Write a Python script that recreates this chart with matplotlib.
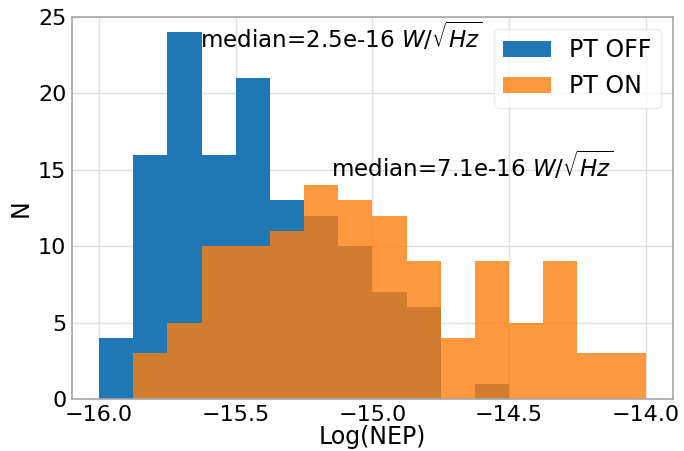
import numpy as np
import matplotlib
matplotlib.use("Agg")
import matplotlib.pyplot as plt

# Histogram counts of log10(NEP), bin width 0.125
off_edges = [-16.0, -15.875, -15.75, -15.625, -15.5, -15.375, -15.25,
             -15.125, -15.0, -14.875, -14.75, -14.625, -14.5]
off_counts = [4, 16, 24, 16, 21, 13, 12, 10, 7, 6, 0, 1]

on_edges = [-15.875, -15.75, -15.625, -15.5, -15.375, -15.25, -15.125,
            -15.0, -14.875, -14.75, -14.625, -14.5, -14.375, -14.25,
            -14.125, -14.0]
on_counts = [3, 5, 10, 10, 11, 14, 13, 12, 9, 4, 9, 5, 9, 3, 3]

median_off = "2.5e-16"
median_on = "7.1e-16"

plt.rcParams["font.family"] = "DejaVu Sans"
plt.rcParams["font.size"] = 16

fig = plt.figure(figsize=(6.84, 4.51), dpi=100)
ax = fig.add_axes([0.105, 0.1153, 0.879, 0.847])

off_edges = np.asarray(off_edges)
on_edges = np.asarray(on_edges)
off_centers = (off_edges[:-1] + off_edges[1:]) / 2
on_centers = (on_edges[:-1] + on_edges[1:]) / 2

ax.hist(off_centers, bins=off_edges, weights=off_counts,
        color="#1f77b4", label="PT OFF")
ax.hist(on_centers, bins=on_edges, weights=on_counts,
        color="#ff7f0e", alpha=0.8, label="PT ON")

ax.set_ylim(0, 25)
ax.set_yticks([0, 5, 10, 15, 20, 25])
ax.set_xticks([-16.0, -15.5, -15.0, -14.5, -14.0])

ax.text(-15.632, 23, "median=" + median_off + r" $W/\sqrt{Hz}$",
        fontsize=16.6, va="baseline", ha="left")
ax.text(-15.152, 14.5, "median=" + median_on + r" $W/\sqrt{Hz}$",
        fontsize=16.6, va="baseline", ha="left")

ax.set_xlabel("Log(NEP)", fontsize=17, labelpad=0.5)
ax.set_ylabel("N", fontsize=17, labelpad=4)

ax.grid(True, color="0.88", linewidth=1.0)
ax.set_axisbelow(True)
for s in ax.spines.values():
    s.set_color("0.65")
    s.set_linewidth(1.2)
ax.tick_params(length=0, pad=4, labelsize=16)

leg = ax.legend(loc="upper right", fontsize=17, frameon=True,
                fancybox=True, framealpha=0.8, edgecolor="0.9")

fig.savefig("out.png", dpi=100)
